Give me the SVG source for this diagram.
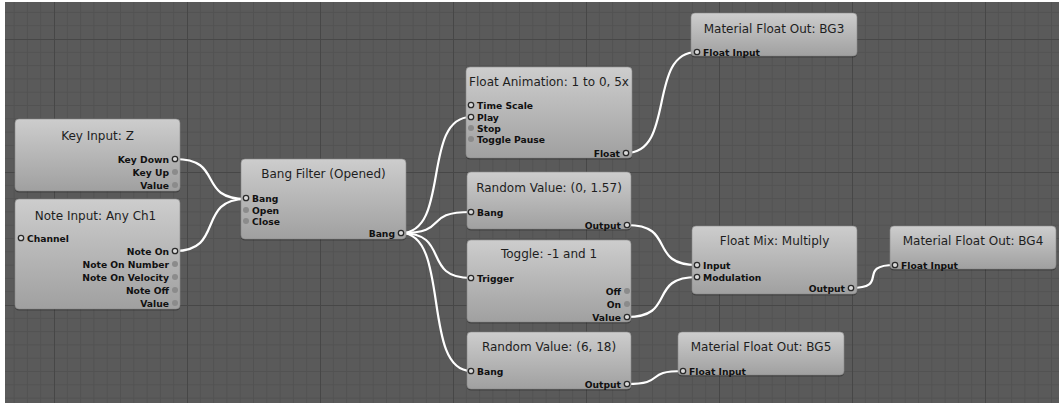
<svg xmlns="http://www.w3.org/2000/svg" width="1059" height="403" viewBox="0 0 1059 403">
<defs>
<pattern id="grid" x="54" y="39" width="133" height="133" patternUnits="userSpaceOnUse">
<rect width="133" height="133" fill="#5a5a5a"/>
<path d="M13.3,0V133M26.6,0V133M39.9,0V133M53.2,0V133M66.5,0V133M79.8,0V133M93.1,0V133M106.4,0V133M119.7,0V133M0,13.3H133M0,26.6H133M0,39.9H133M0,53.2H133M0,66.5H133M0,79.8H133M0,93.1H133M0,106.4H133M0,119.7H133" stroke="#525252" stroke-width="1" fill="none"/>
<path d="M0.5,0V133M0,0.5H133" stroke="#474747" stroke-width="1" fill="none"/>
</pattern>
<linearGradient id="nodeg" x1="0" y1="0" x2="0" y2="1">
<stop offset="0" stop-color="#cdcdcd"/>
<stop offset="0.35" stop-color="#bdbdbd"/>
<stop offset="1" stop-color="#a0a0a0"/>
</linearGradient>
<style>
.box{fill:url(#nodeg);stroke:#8a8a8a;stroke-width:0.6}
.sh{fill:#000;opacity:0.28}
.title{font-family:"DejaVu Sans",sans-serif;font-size:12px;fill:#1e1e1e;text-anchor:middle}
.lab{font-family:"DejaVu Sans",sans-serif;font-size:9.2px;font-weight:bold;fill:#111}
.in{text-anchor:start}
.out{text-anchor:end}
.ring{fill:#d9d9d9;stroke:#2a2a2a;stroke-width:1.3}
.dot{fill:#8b8b8b}
.wire{fill:none;stroke:#ffffff;stroke-width:2.2;stroke-linecap:round}
</style>
</defs>
<rect x="0" y="0" width="1059" height="403" fill="#ffffff"/>
<rect x="5" y="2" width="1054" height="401" fill="url(#grid)"/>

<g id="connectors">
<path class="wire" d="M175,159 C225,159 196,199 246,199"/>
<path class="wire" d="M175,251 C225,251 196,199 246,199"/>
<path class="wire" d="M401,233 C451,233 421,117 471,117"/>
<path class="wire" d="M401,233 C451,233 421,212 471,212"/>
<path class="wire" d="M401,233 C451,233 421,278 471,278"/>
<path class="wire" d="M401,233 C451,233 421,371 471,371"/>
<path class="wire" d="M626,153 C676,153 647,52 697,52"/>
<path class="wire" d="M627,225 C677,225 647,265 697,265"/>
<path class="wire" d="M627,317 C677,317 647,277 697,277"/>
<path class="wire" d="M851,288 C891,288 855,265 895,265"/>
<path class="wire" d="M627,384 C667,384 643,371 683,371"/>
</g>

<g id="key-input">
<rect class="sh" x="15" y="120.5" width="165" height="72" rx="4"/>
<rect class="box" x="15" y="119" width="165" height="72" rx="4"/>
<text class="title" x="97.5" y="140">Key Input: Z</text>
<text class="lab out" x="169" y="162.5">Key Down</text>
<text class="lab out" x="169" y="175.5">Key Up</text>
<text class="lab out" x="169" y="188.5">Value</text>
<circle class="ring" cx="175" cy="159" r="2.7"/>
<circle class="dot" cx="175" cy="172" r="3"/>
<circle class="dot" cx="175" cy="185" r="3"/>
</g>

<g id="note-input">
<rect class="sh" x="15" y="200.5" width="165" height="110" rx="4"/>
<rect class="box" x="15" y="199" width="165" height="110" rx="4"/>
<text class="title" x="95.5" y="220">Note Input: Any Ch1</text>
<text class="lab in" x="27" y="241.5">Channel</text>
<circle class="ring" cx="21" cy="238" r="2.7"/>
<text class="lab out" x="169" y="254.5">Note On</text>
<text class="lab out" x="169" y="267.5">Note On Number</text>
<text class="lab out" x="169" y="280.5">Note On Velocity</text>
<text class="lab out" x="169" y="293.5">Note Off</text>
<text class="lab out" x="169" y="306.5">Value</text>
<circle class="ring" cx="175" cy="251" r="2.7"/>
<circle class="dot" cx="175" cy="264" r="3"/>
<circle class="dot" cx="175" cy="277" r="3"/>
<circle class="dot" cx="175" cy="290" r="3"/>
<circle class="dot" cx="175" cy="303" r="3"/>
</g>

<g id="bang-filter">
<rect class="sh" x="241" y="160.5" width="165" height="80" rx="4"/>
<rect class="box" x="241" y="159" width="165" height="80" rx="4"/>
<text class="title" x="323.5" y="178">Bang Filter (Opened)</text>
<text class="lab in" x="252" y="201.5">Bang</text>
<text class="lab in" x="252" y="213.5">Open</text>
<text class="lab in" x="252" y="224.5">Close</text>
<circle class="ring" cx="246" cy="198" r="2.7"/>
<circle class="dot" cx="246" cy="210" r="3"/>
<circle class="dot" cx="246" cy="221" r="3"/>
<text class="lab out" x="395" y="236.5">Bang</text>
<circle class="ring" cx="401" cy="233" r="2.7"/>
</g>

<g id="float-animation">
<rect class="sh" x="466" y="68.5" width="166" height="91" rx="4"/>
<rect class="box" x="466" y="67" width="166" height="91" rx="4"/>
<text class="title" x="549" y="86">Float Animation: 1 to 0, 5x</text>
<text class="lab in" x="477" y="108.5">Time Scale</text>
<text class="lab in" x="477" y="120.5">Play</text>
<text class="lab in" x="477" y="131.5">Stop</text>
<text class="lab in" x="477" y="142.5">Toggle Pause</text>
<circle class="ring" cx="471" cy="105" r="2.7"/>
<circle class="ring" cx="471" cy="117" r="2.7"/>
<circle class="dot" cx="471" cy="128" r="3"/>
<circle class="dot" cx="471" cy="139" r="3"/>
<text class="lab out" x="620" y="156.5">Float</text>
<circle class="ring" cx="626" cy="153" r="2.7"/>
</g>

<g id="material-bg3">
<rect class="sh" x="691" y="14.5" width="166" height="43" rx="4"/>
<rect class="box" x="691" y="13" width="166" height="43" rx="4"/>
<text class="title" x="774" y="33">Material Float Out: BG3</text>
<text class="lab in" x="703" y="55.5">Float Input</text>
<circle class="ring" cx="697" cy="52" r="2.7"/>
</g>

<g id="random-value-1">
<rect class="sh" x="467" y="173.5" width="164" height="57" rx="4"/>
<rect class="box" x="467" y="172" width="164" height="57" rx="4"/>
<text class="title" x="549" y="192">Random Value: (0, 1.57)</text>
<text class="lab in" x="477" y="215.5">Bang</text>
<circle class="ring" cx="471" cy="212" r="2.7"/>
<text class="lab out" x="621" y="228.5">Output</text>
<circle class="ring" cx="627" cy="225" r="2.7"/>
</g>

<g id="toggle">
<rect class="sh" x="467" y="241.5" width="164" height="82" rx="4"/>
<rect class="box" x="467" y="240" width="164" height="82" rx="4"/>
<text class="title" x="549" y="258">Toggle: -1 and 1</text>
<text class="lab in" x="477" y="281.5">Trigger</text>
<circle class="ring" cx="471" cy="278" r="2.7"/>
<text class="lab out" x="621" y="294.5">Off</text>
<text class="lab out" x="621" y="307.5">On</text>
<text class="lab out" x="621" y="320.5">Value</text>
<circle class="dot" cx="627" cy="291" r="3"/>
<circle class="dot" cx="627" cy="304" r="3"/>
<circle class="ring" cx="627" cy="317" r="2.7"/>
</g>

<g id="float-mix">
<rect class="sh" x="692" y="227.5" width="165" height="68" rx="4"/>
<rect class="box" x="692" y="226" width="165" height="68" rx="4"/>
<text class="title" x="774.5" y="245">Float Mix: Multiply</text>
<text class="lab in" x="703" y="268.5">Input</text>
<text class="lab in" x="703" y="280.5">Modulation</text>
<circle class="ring" cx="697" cy="265" r="2.7"/>
<circle class="ring" cx="697" cy="277" r="2.7"/>
<text class="lab out" x="845" y="291.5">Output</text>
<circle class="ring" cx="851" cy="288" r="2.7"/>
</g>

<g id="material-bg4">
<rect class="sh" x="890" y="227.5" width="166" height="43" rx="4"/>
<rect class="box" x="890" y="226" width="166" height="43" rx="4"/>
<text class="title" x="973" y="245">Material Float Out: BG4</text>
<text class="lab in" x="901" y="268.5">Float Input</text>
<circle class="ring" cx="895" cy="265" r="2.7"/>
</g>

<g id="random-value-2">
<rect class="sh" x="467" y="333.5" width="164" height="57" rx="4"/>
<rect class="box" x="467" y="332" width="164" height="57" rx="4"/>
<text class="title" x="549" y="351">Random Value: (6, 18)</text>
<text class="lab in" x="477" y="374.5">Bang</text>
<circle class="ring" cx="471" cy="371" r="2.7"/>
<text class="lab out" x="621" y="387.5">Output</text>
<circle class="ring" cx="627" cy="384" r="2.7"/>
</g>

<g id="material-bg5">
<rect class="sh" x="678" y="333.5" width="166" height="43" rx="4"/>
<rect class="box" x="678" y="332" width="166" height="43" rx="4"/>
<text class="title" x="761" y="351">Material Float Out: BG5</text>
<text class="lab in" x="689" y="374.5">Float Input</text>
<circle class="ring" cx="683" cy="371" r="2.7"/>
</g>
</svg>
